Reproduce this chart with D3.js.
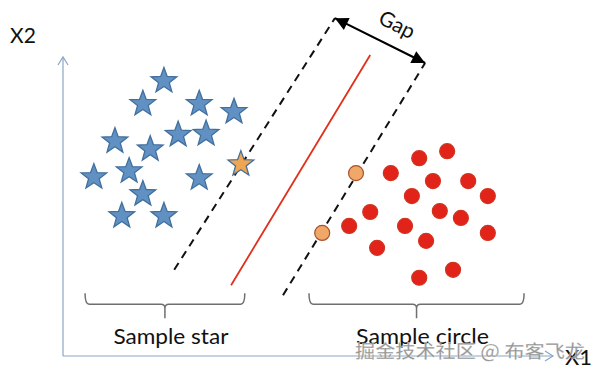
<!DOCTYPE html>
<html><head><meta charset="utf-8">
<script src="https://cdn.jsdelivr.net/npm/d3@7"></script>
<style>html,body{margin:0;padding:0;background:#fff;}svg{display:block;}</style>
</head><body>
<script>
// ---- data (abstract X1/X2 units) ----
const starX = [20.6,16.3,27.8,34.9,23.5,29.2,10.6,17.8,36.3,13.5,6.3,27.8,16.3,12.0,20.6];
const starY = [55.4,50.8,50.8,49.2,44.6,44.8,43.3,41.7,38.7,37.3,36.1,35.9,32.7,28.3,28.3];
const starSupport = [false,false,false,false,false,false,false,false,true,false,false,false,false,false,false];
const circleX = [59.8,52.9,72.7,78.4,66.9,75.5,82.7,71.2,86.7,62.7,76.9,81.2,58.4,69.8,86.7,74.1,64.1,79.6,72.7];
const circleY = [36.7,24.7,39.7,41.1,36.7,35.1,35.1,32.1,32.1,28.9,29.1,27.7,26.1,26.1,24.7,23.1,21.7,17.3,15.7];
const circleSupport = [true,true,false,false,false,false,false,false,false,false,false,false,false,false,false,false,false,false,false];
const marginUpper = [[22.7,17.3],[55.5,67.8]];
const hyperplane = [[34.3,14.2],[62.7,60.4]];
const marginLower = [[44.9,12.2],[73.9,58.8]];
const groupNames = ["Sample star","Sample circle"];
const groupStart = [4.5,50.2];
const groupEnd = [37.1,94.1];
const axisLabels = ["X1","X2"];
const gapLabel = "Gap";
const watermark = "掘金技术社区 @ 布客飞龙";

const W = 599, H = 375;
const x = d3.scaleLinear().domain([0,100]).range([63,553]);
const y = d3.scaleLinear().domain([0,60]).range([356,57]);

const svg = d3.select("body").append("svg").attr("width",W).attr("height",H);
const font = "Lato, 'Open Sans', sans-serif";

// axes
const axisCol = "#8aa6c4";
svg.append("line").attr("x1",x(0)).attr("y1",y(0)).attr("x2",x(0)).attr("y2",y(60))
  .attr("stroke",axisCol).attr("stroke-width",1.2);
svg.append("line").attr("x1",x(0)).attr("y1",y(0)).attr("x2",x(100)).attr("y2",y(0))
  .attr("stroke",axisCol).attr("stroke-width",1.2);
svg.append("path").attr("d",`M${x(0)-5},${y(60)+8}L${x(0)},${y(60)}L${x(0)+5},${y(60)+8}`)
  .attr("fill","none").attr("stroke",axisCol).attr("stroke-width",1.2);
svg.append("path").attr("d",`M${x(100)-8},${y(0)-5}L${x(100)},${y(0)}L${x(100)-8},${y(0)+5}`)
  .attr("fill","none").attr("stroke",axisCol).attr("stroke-width",1.2);
svg.append("text").attr("x",10).attr("y",43).attr("font-family",font).attr("font-size",21)
  .attr("fill","#111").text(axisLabels[1]);

// braces
const braceCol = "#6f6f6f";
const labelWidths = [115,133];
groupNames.forEach((name,i)=>{
  const a = x(groupStart[i]), b = x(groupEnd[i]), m = (a+b)/2;
  const yb = y(10.4), yt = y(12.6), yd = y(7.6);
  const p = `M${a},${yt} Q${a},${yb} ${a+4},${yb} L${m-4},${yb} Q${m},${yb} ${m},${yb+4} L${m},${yd} M${m},${yb+4} Q${m},${yb} ${m+4},${yb} L${b-4},${yb} Q${b},${yb} ${b},${yt}`;
  svg.append("path").attr("d",p).attr("fill","none").attr("stroke",braceCol).attr("stroke-width",1.5);
  svg.append("text").attr("x",m+6).attr("y",344).attr("text-anchor","middle")
    .attr("font-family",font).attr("font-size",22).attr("fill","#111")
    .attr("textLength",labelWidths[i]).attr("lengthAdjust","spacingAndGlyphs").text(name);
});

// lines
function seg(p, col, w, dash){
  svg.append("line").attr("x1",x(p[0][0])).attr("y1",y(p[0][1])).attr("x2",x(p[1][0])).attr("y2",y(p[1][1]))
    .attr("stroke",col).attr("stroke-width",w).attr("stroke-dasharray",dash||null);
}
seg(marginUpper,"#111",2,"8,6");
seg(marginLower,"#111",2,"8,6");
seg(hyperplane,"#e0301a",1.8);

// gap arrow
const defs = svg.append("defs");
defs.append("marker").attr("id","ah").attr("viewBox","0 0 10 10").attr("refX",10).attr("refY",5)
  .attr("markerWidth",7).attr("markerHeight",6).attr("markerUnits","strokeWidth").attr("orient","auto-start-reverse")
  .append("path").attr("d","M0,0L10,5L0,10z").attr("fill","#000");
const g1 = [x(marginUpper[1][0]),y(marginUpper[1][1])], g2 = [x(marginLower[1][0]),y(marginLower[1][1])];
svg.append("line").attr("x1",g1[0]).attr("y1",g1[1]).attr("x2",g2[0]).attr("y2",g2[1])
  .attr("stroke","#000").attr("stroke-width",2.2)
  .attr("marker-start","url(#ah)").attr("marker-end","url(#ah)");
const ang = Math.atan2(g2[1]-g1[1], g2[0]-g1[0])*180/Math.PI;
svg.append("text").attr("transform",`translate(${(g1[0]+g2[0])/2+17},${(g1[1]+g2[1])/2-16}) rotate(${ang})`)
  .attr("text-anchor","middle").attr("dy","0.35em").attr("font-family",font).attr("font-size",21)
  .attr("fill","#111").text(gapLabel);

// stars
function starPath(R, r){
  const pts=[];
  for(let k=0;k<10;k++){
    const rad = k%2===0?R:r;
    const a = -Math.PI/2 + k*Math.PI/5;
    pts.push([rad*Math.cos(a), rad*Math.sin(a)]);
  }
  return "M"+pts.map(p=>p[0].toFixed(2)+","+p[1].toFixed(2)).join("L")+"Z";
}
const sp = starPath(13.5,5.6);
svg.selectAll(".star").data(starX.map((d,i)=>({x:d,y:starY[i],s:starSupport[i]}))).join("path")
  .attr("class","star").attr("d",sp)
  .attr("transform",d=>`translate(${x(d.x)},${y(d.y)+1})`)
  .attr("fill",d=>d.s?"#f0a552":"#6191c2").attr("stroke","#41709e").attr("stroke-width",1.3);

// circles
svg.selectAll(".dot").data(circleX.map((d,i)=>({x:d,y:circleY[i],s:circleSupport[i]}))).join("circle")
  .attr("class","dot").attr("cx",d=>x(d.x)).attr("cy",d=>y(d.y)).attr("r",7.5)
  .attr("fill",d=>d.s?"#f0a868":"#e2231a").attr("stroke",d=>d.s?"#a8502c":"#d0341e").attr("stroke-width",1.2);

// X1 label
svg.append("text").attr("x",565).attr("y",365).attr("font-family",font).attr("font-size",22)
  .attr("fill","#111").text(axisLabels[0]);

// watermark
svg.append("text").attr("x",355).attr("y",358).attr("font-family","'Noto Sans CJK SC', sans-serif")
  .attr("font-size",18).attr("font-weight",500).attr("fill","#858585").attr("fill-opacity",0.9)
  .attr("stroke","#fff").attr("stroke-width",0.5).attr("stroke-opacity",0.6)
  .attr("textLength",230).attr("lengthAdjust","spacingAndGlyphs").text(watermark);
</script>
</body></html>
